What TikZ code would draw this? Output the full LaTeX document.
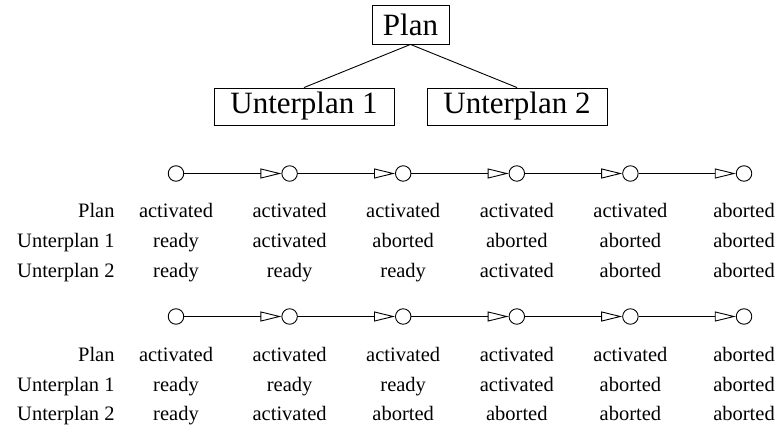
\documentclass[tikz,border=0pt]{standalone}
\usepackage{fontspec}
\setmainfont{Liberation Serif}
\usetikzlibrary{arrows.meta}
\begin{document}
\begin{tikzpicture}[x=1pt,y=-1pt,line width=0.9pt,
  planbox/.style={draw,inner sep=0pt,font=\fontsize{31}{36}\selectfont},
  state/.style={draw,circle,minimum size=15.5pt,inner sep=0pt,fill=white},
  trans/.style={-{Triangle[open,length=21pt,width=10pt,line width=0.9pt]}},
  cell/.style={anchor=base,font=\fontsize{20.5}{24}\selectfont,inner sep=0pt},
  rowlabel/.style={anchor=base east,font=\fontsize{20.5}{24}\selectfont,inner sep=0pt}]
\useasboundingbox (0,0) rectangle (778,427);

% plan hierarchy
\node[planbox,minimum width=77pt,minimum height=39pt] (plan) at (410.5,24.5) {Plan};
\node[planbox,minimum width=180pt,minimum height=37pt] (sub1) at (304,106.5) {Unterplan 1};
\node[planbox,minimum width=180pt,minimum height=37pt] (sub2) at (517,106.5) {Unterplan 2};
\draw (plan.south) -- (sub1.north);
\draw (plan.south) -- (sub2.north);

% first sequence
\foreach \i/\x in {1/176,2/289.6,3/403.2,4/516.8,5/630.4,6/744}
  \node[state] (a\i) at (\x,173.5) {};
\foreach \i/\j in {1/2,2/3,3/4,4/5,5/6}
  \draw[trans] (a\i) -- (a\j);
\node[rowlabel] (la1) at (115,218) {Plan};
\node[rowlabel] (la2) at (115,247.5) {Unterplan 1};
\node[rowlabel] (la3) at (115,277) {Unterplan 2};
\foreach \i/\p/\u/\v in {1/activated/ready/ready,
                          2/activated/activated/ready,
                          3/activated/aborted/ready,
                          4/activated/aborted/activated,
                          5/activated/aborted/aborted,
                          6/aborted/aborted/aborted}{
  \node[cell] (ap\i) at (a\i.center |- 0,218) {\p};
  \node[cell] (au\i) at (a\i.center |- 0,247.5) {\u};
  \node[cell] (av\i) at (a\i.center |- 0,277) {\v};
}

% second sequence
\foreach \i/\x in {1/176,2/289.6,3/403.2,4/516.8,5/630.4,6/744}
  \node[state] (b\i) at (\x,316.5) {};
\foreach \i/\j in {1/2,2/3,3/4,4/5,5/6}
  \draw[trans] (b\i) -- (b\j);
\node[rowlabel] (lb1) at (115,361.5) {Plan};
\node[rowlabel] (lb2) at (115,391) {Unterplan 1};
\node[rowlabel] (lb3) at (115,420) {Unterplan 2};
\foreach \i/\p/\u/\v in {1/activated/ready/ready,
                          2/activated/ready/activated,
                          3/activated/ready/aborted,
                          4/activated/activated/aborted,
                          5/activated/aborted/aborted,
                          6/aborted/aborted/aborted}{
  \node[cell] (bp\i) at (b\i.center |- 0,361.5) {\p};
  \node[cell] (bu\i) at (b\i.center |- 0,391) {\u};
  \node[cell] (bv\i) at (b\i.center |- 0,420) {\v};
}
\end{tikzpicture}
\end{document}
